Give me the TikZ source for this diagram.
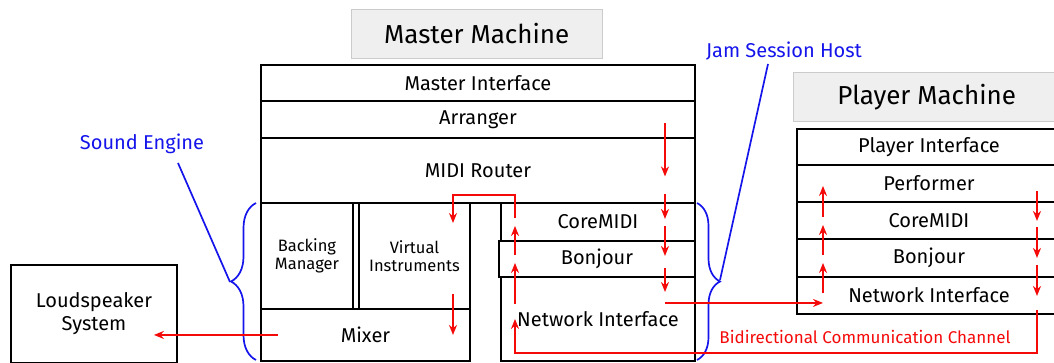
\documentclass[tikz,border=0pt]{standalone}
\usepackage{fontspec}
\setmainfont{Fira Sans}
\usetikzlibrary{calc, arrows.meta, decorations.pathreplacing}

\definecolor{engineblue}{RGB}{20,20,235}
\definecolor{channelred}{RGB}{245,10,10}
\definecolor{titlegray}{RGB}{239,239,239}

\tikzset{
  layer/.style={draw, line width=1.9pt, anchor=north west, inner sep=0pt, align=center, font=\fontsize{20}{23}\selectfont},
  smalllayer/.style={layer, font=\fontsize{16.5}{18.5}\selectfont},
  machine/.style={fill=titlegray, draw=titlegray!85!black, line width=0.6pt, anchor=north west, inner sep=0pt, font=\fontsize{26}{30}\selectfont},
  flow/.style={draw=channelred, line width=1.8pt, -{Stealth[length=10pt,width=8pt]}},
  hint/.style={draw=engineblue, line width=1.7pt},
}

\begin{document}
\begin{tikzpicture}[x=1pt, y=-1pt]
            \useasboundingbox (0,0) rectangle (1054,363);
            % master machine
            \node[machine, minimum width=251pt, minimum height=49pt] (masterTitle) at (351,9) {Master Machine};
            \node[layer, minimum width=434pt, minimum height=36pt] (mInterface) at (260,64) {Master Interface};
            \node[layer, minimum width=434pt, minimum height=37pt] (mArranger) at (260,100) {Arranger};
            \node[layer, minimum width=434pt, minimum height=65pt] (mRouter) at (260,137) {MIDI Router};
            \node[smalllayer, minimum width=92pt, minimum height=106pt] (mBacking) at (260,202) {Backing\\Manager};
            \node[smalllayer, minimum width=111pt, minimum height=106pt] (mVirtual) at (358,202) {Virtual\\Instruments};
            \node[layer, minimum width=209pt, minimum height=52pt] (mMixer) at (260,308) {Mixer};
            \node[layer, minimum width=194pt, minimum height=38pt] (mCoreMIDI) at (500,202) {CoreMIDI};
            \node[layer, minimum width=196pt, minimum height=36pt] (mBonjour) at (498,240) {Bonjour};
            \node[layer, minimum width=194pt, minimum height=84pt] (mNetwork) at (500,276) {Network Interface};
            % player machine
            \node[machine, minimum width=267pt, minimum height=49pt] (playerTitle) at (793,72) {Player Machine};
            \node[layer, minimum width=264pt, minimum height=36pt] (pInterface) at (796,128) {Player Interface};
            \node[layer, minimum width=264pt, minimum height=37pt] (pPerformer) at (796,164) {Performer};
            \node[layer, minimum width=264pt, minimum height=37pt] (pCoreMIDI) at (796,201) {CoreMIDI};
            \node[layer, minimum width=264pt, minimum height=38pt] (pBonjour) at (796,238) {Bonjour};
            \node[layer, minimum width=264pt, minimum height=37pt] (pNetwork) at (796,276) {Network Interface};
            \node[layer, minimum width=166pt, minimum height=98pt] (speaker) at (10,264) {Loudspeaker\\System};
            % labels
            \node[text=engineblue, font=\fontsize{20}{23}\selectfont] (soundLabel) at (142,144) {Sound Engine};
            \node[text=engineblue, font=\fontsize{20}{23}\selectfont] (jamLabel) at (784,51) {Jam Session Host};
            \node[text=channelred, font=\fontsize{17}{20}\selectfont] (channelLabel) at (865,337) {Bidirectional Communication Channel};
            % braces
            \draw[hint, decorate, decoration={brace, amplitude=25pt}] (256,360) -- (256,203);
            \draw[hint, decorate, decoration={brace, amplitude=23pt}] (697,203) -- (697,360);
            \coordinate (soundTip) at (230,282);
            \coordinate (soundFrom) at (178,163);
            \coordinate (jamTip) at (720,280);
            \coordinate (jamFrom) at (768,64);
            \draw[hint] (soundFrom) -- (soundTip);
            \draw[hint] (jamFrom) -- (jamTip);
            % columns of the channel
            \coordinate (mcolL) at (515,0);
            \coordinate (mcolR) at (665,0);
            \coordinate (pcolL) at (823,0);
            \coordinate (pcolR) at (1037,0);
            \coordinate (vcol) at (453,0);
            % master down to the network
            \draw[flow] ($(mArranger.center -| mcolR)+(0,4)$) -- ($(mRouter.center -| mcolR)+(0,6)$);
            \draw[flow] ($(mRouter.south -| mcolR)+(0,-10)$) -- ($(mCoreMIDI.center -| mcolR)+(0,-3)$);
            \draw[flow] ($(mCoreMIDI.south -| mcolR)+(0,-16)$) -- ($(mBonjour.center -| mcolR)+(0,-3)$);
            \draw[flow] ($(mBonjour.south -| mcolR)+(0,-10)$) -- ($(mNetwork.north -| mcolR)+(0,16)$);
            \coordinate (hop) at ($(pNetwork.center -| pcolL)+(0,7.5)$);
            \draw[flow] (mcolR |- hop) -- (hop);
            % player up to the performer
            \draw[flow] ($(pNetwork.center -| pcolL)+(0,-2)$) -- ($(pBonjour.center -| pcolL)+(0,5)$);
            \draw[flow] ($(pBonjour.north -| pcolL)+(0,17)$) -- ($(pCoreMIDI.center -| pcolL)+(0,4.5)$);
            \draw[flow] ($(pCoreMIDI.north -| pcolL)+(0,16)$) -- ($(pPerformer.center -| pcolL)+(0,2.5)$);
            % player back down
            \draw[flow] ($(pPerformer.center -| pcolR)+(0,7.5)$) -- ($(pCoreMIDI.center -| pcolR)+(0,0.5)$);
            \draw[flow] ($(pCoreMIDI.center -| pcolR)+(0,6.5)$) -- (pBonjour.center -| pcolR);
            \draw[flow] ($(pBonjour.center -| pcolR)+(0,7)$) -- ($(pNetwork.center -| pcolR)+(0,0.5)$);
            \coordinate (back) at ($(mNetwork.south -| pcolR)+(0,-9)$);
            \draw[flow] ($(pNetwork.south -| pcolR)+(0,-5)$) -- (back) -| (mNetwork.center -| mcolL);
            % master up to the instruments
            \draw[flow] ($(mNetwork.center -| mcolL)+(0,-15)$) -- ($(mBonjour.center -| mcolL)+(0,4)$);
            \draw[flow] ($(mBonjour.north -| mcolL)+(0,15)$) -- ($(mCoreMIDI.center -| mcolL)+(0,4)$);
            \draw[flow] ($(mCoreMIDI.north -| mcolL)+(0,16)$) |- ($(mRouter.south -| vcol)+(0,-9)$) -- ($(mVirtual.north -| vcol)+(0,21)$);
            \draw[flow] ($(mVirtual.south -| vcol)+(0,-16)$) -- (mMixer.center -| vcol);
            \draw[flow] ($(mMixer.west)+(18,0)$) -- ($(mMixer.west -| speaker.east)+(-24,0)$);
        \end{tikzpicture}
\end{document}
